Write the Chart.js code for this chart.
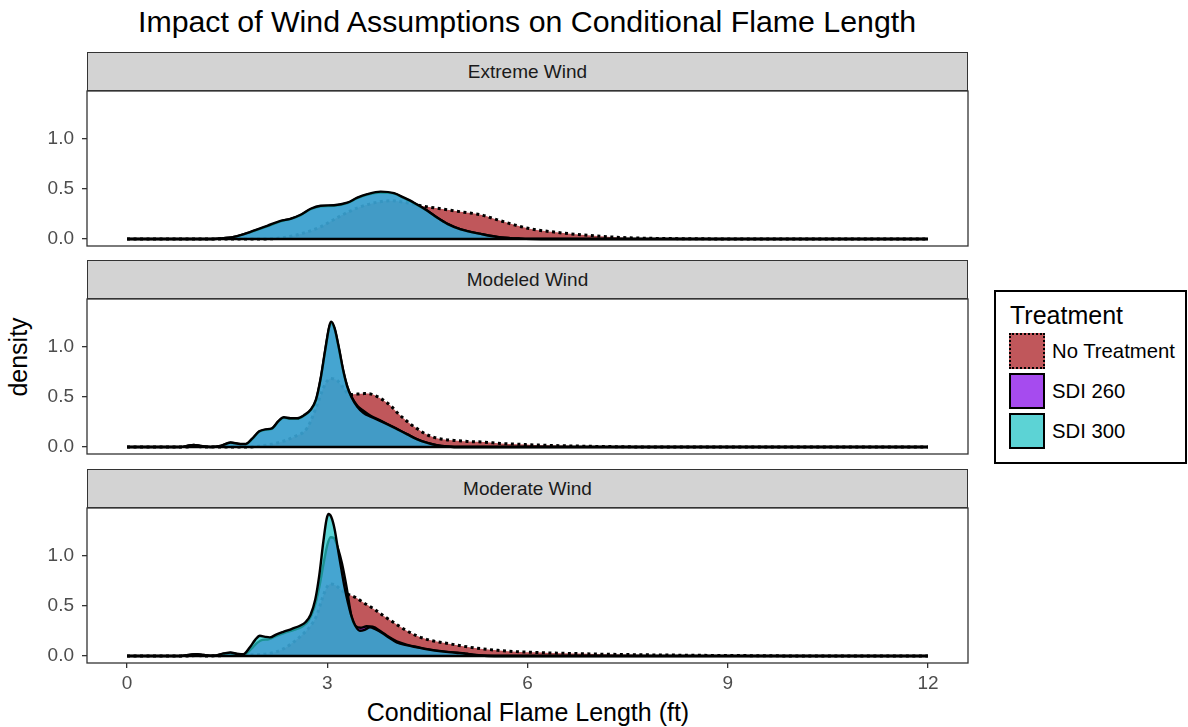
<!DOCTYPE html>
<html>
<head>
<meta charset="utf-8">
<script src="https://cdn.jsdelivr.net/npm/chart.js@4.4.1/dist/chart.umd.min.js"></script>
<style>
  body { margin: 0; background: #fff; font-family: "Liberation Sans", Arial, sans-serif; }
  #wrap { position: relative; width: 1188px; height: 727px; overflow: hidden; background: #fff; }
  canvas { position: absolute; left: 0; z-index: 1; }
  .strip { position: absolute; left: 87px; width: 881px; height: 39px; background: #d3d3d3;
           border: 1.3px solid #333; box-sizing: border-box; text-align: center;
           line-height: 37px; font-size: 19px; color: #1a1a1a; z-index: 2; }
  .txt { position: absolute; white-space: nowrap; color: #000; }
  #title { left: 527px; top: 22px; transform: translate(-50%, -50%); font-size: 30.3px; }
  #xlab { left: 528px; top: 712px; transform: translate(-50%, -50%); font-size: 25px; }
  #ylab { left: 18px; top: 357px; transform: translate(-50%, -50%) rotate(-90deg); font-size: 25px; }
  #legend { position: absolute; left: 994px; top: 290px; width: 193px; height: 174px;
            border: 2px solid #000; box-sizing: border-box; }
  #legTitle { left: 1010px; top: 315px; transform: translateY(-50%); font-size: 25px; }
  .key { position: absolute; left: 1009px; width: 36px; height: 36px; box-sizing: border-box;
         border: 2px solid #000; }
  .keyLab { position: absolute; left: 1052px; font-size: 20.3px; transform: translateY(-50%); white-space: nowrap; }
</style>
</head>
<body>
<div id="wrap">
  <div class="txt" id="title">Impact of Wind Assumptions on Conditional Flame Length</div>
  <div class="txt" id="xlab">Conditional Flame Length (ft)</div>
  <div class="txt" id="ylab">density</div>
  <div id="legend"></div>
  <div class="txt" id="legTitle">Treatment</div>
</div>
<script>
// facets, series and ticks
var panelNames = ['Extreme Wind', 'Modeled Wind', 'Moderate Wind'];
var seriesNames = ['No Treatment', 'SDI 260', 'SDI 300'];
var xTicks = [0, 3, 6, 9, 12];
var yTicks = [0, 0.5, 1.0];

// density curves, [flame length ft, density]
var extremeNone = [[0,0],[2.0,0],[2.3,0.01],[2.6,0.05],[2.9,0.12],[3.2,0.23],[3.5,0.32],[3.75,0.365],[3.95,0.38],[4.15,0.365],[4.4,0.33],[4.7,0.3],[5.0,0.27],[5.3,0.24],[5.55,0.19],[5.8,0.14],[6.05,0.1],[6.4,0.068],[6.8,0.042],[7.3,0.018],[7.8,0.007],[8.5,0.002],[9,0],[12,0]];
var extreme260 = [[0,0],[1.2,0],[1.4,0.005],[1.6,0.02],[1.85,0.068],[2.1,0.125],[2.3,0.175],[2.45,0.2],[2.6,0.235],[2.75,0.295],[2.9,0.325],[3.1,0.33],[3.3,0.355],[3.45,0.405],[3.6,0.44],[3.8,0.46],[4.0,0.45],[4.15,0.405],[4.3,0.355],[4.5,0.28],[4.65,0.21],[4.8,0.15],[5.0,0.095],[5.3,0.05],[5.6,0.015],[5.9,0.003],[6.2,0],[12,0]];
var extreme300 = [[0,0],[1.2,0],[1.4,0.005],[1.6,0.02],[1.85,0.07],[2.1,0.13],[2.3,0.18],[2.45,0.2],[2.6,0.24],[2.75,0.3],[2.9,0.33],[3.1,0.335],[3.3,0.36],[3.45,0.41],[3.6,0.445],[3.8,0.47],[4.0,0.455],[4.15,0.41],[4.3,0.36],[4.5,0.28],[4.65,0.21],[4.8,0.15],[5.0,0.095],[5.3,0.05],[5.6,0.015],[5.9,0.003],[6.2,0],[12,0]];

var modeledNone = [[0,0],[0.9,0],[1.0,0.005],[1.2,0],[1.8,0],[2.0,0.01],[2.25,0.04],[2.5,0.1],[2.7,0.19],[2.85,0.42],[2.95,0.6],[3.05,0.68],[3.15,0.66],[3.25,0.58],[3.33,0.52],[3.45,0.525],[3.56,0.53],[3.66,0.525],[3.75,0.5],[3.85,0.46],[3.95,0.41],[4.05,0.34],[4.15,0.28],[4.25,0.225],[4.35,0.18],[4.47,0.13],[4.6,0.095],[4.75,0.075],[4.9,0.065],[5.1,0.055],[5.35,0.048],[5.6,0.035],[5.85,0.027],[6.1,0.02],[6.4,0.014],[6.8,0.008],[7.3,0.003],[7.8,0],[12,0]];
var modeled260 = [[0,0],[0.8,0],[0.9,0.01],[1.0,0.02],[1.1,0.01],[1.25,0],[1.4,0.01],[1.55,0.042],[1.7,0.028],[1.78,0.028],[1.87,0.075],[1.98,0.15],[2.07,0.17],[2.17,0.18],[2.27,0.255],[2.35,0.29],[2.45,0.28],[2.55,0.28],[2.65,0.31],[2.75,0.365],[2.83,0.46],[2.9,0.67],[2.97,0.96],[3.03,1.19],[3.06,1.23],[3.11,1.17],[3.17,0.99],[3.24,0.75],[3.3,0.6],[3.36,0.5],[3.45,0.41],[3.54,0.36],[3.65,0.31],[3.79,0.265],[3.92,0.22],[4.04,0.18],[4.2,0.125],[4.34,0.078],[4.5,0.04],[4.64,0.017],[4.8,0.005],[5.0,0],[12,0]];
var modeled300 = [[0,0],[0.8,0],[0.9,0.01],[1.0,0.02],[1.1,0.01],[1.25,0],[1.4,0.01],[1.55,0.044],[1.7,0.03],[1.78,0.03],[1.87,0.08],[1.98,0.155],[2.07,0.175],[2.17,0.185],[2.27,0.26],[2.35,0.295],[2.45,0.285],[2.55,0.285],[2.65,0.315],[2.75,0.37],[2.83,0.47],[2.9,0.68],[2.97,0.97],[3.03,1.2],[3.06,1.245],[3.11,1.18],[3.17,1.0],[3.24,0.76],[3.3,0.6],[3.36,0.5],[3.45,0.4],[3.54,0.34],[3.65,0.3],[3.79,0.26],[3.92,0.22],[4.04,0.18],[4.2,0.125],[4.34,0.078],[4.5,0.04],[4.64,0.017],[4.8,0.005],[5.0,0],[12,0]];

var moderateNone = [[0,0],[0.9,0],[1.05,0.005],[1.2,0],[1.5,0.005],[1.8,0.01],[2.09,0.02],[2.34,0.07],[2.59,0.19],[2.75,0.3],[2.84,0.4],[2.93,0.58],[3.0,0.69],[3.06,0.715],[3.13,0.7],[3.2,0.66],[3.27,0.625],[3.34,0.605],[3.44,0.575],[3.54,0.53],[3.69,0.47],[3.84,0.4],[3.99,0.335],[4.14,0.27],[4.34,0.2],[4.55,0.155],[4.84,0.12],[5.1,0.09],[5.33,0.07],[5.58,0.055],[5.83,0.043],[6.1,0.036],[6.33,0.03],[6.7,0.024],[7.1,0.018],[7.6,0.013],[8.1,0.009],[8.6,0.006],[9.1,0.004],[9.6,0.002],[10,0],[12,0]];
var moderate260 = [[0,0],[0.8,0],[0.95,0.012],[1.05,0.018],[1.15,0.01],[1.3,0.003],[1.45,0.022],[1.55,0.03],[1.65,0.02],[1.76,0.015],[1.86,0.07],[1.95,0.13],[2.03,0.16],[2.12,0.165],[2.24,0.2],[2.36,0.23],[2.5,0.26],[2.62,0.29],[2.72,0.35],[2.8,0.47],[2.87,0.65],[2.94,0.9],[3.0,1.1],[3.05,1.18],[3.1,1.17],[3.16,1.07],[3.22,0.92],[3.29,0.68],[3.36,0.4],[3.42,0.3],[3.5,0.28],[3.59,0.295],[3.68,0.29],[3.8,0.245],[3.92,0.19],[4.04,0.145],[4.2,0.11],[4.34,0.09],[4.5,0.068],[4.74,0.045],[4.95,0.032],[5.05,0.026],[5.13,0.018],[5.3,0.005],[5.5,0],[12,0]];
var moderate300 = [[0,0],[0.8,0],[0.95,0.012],[1.05,0.018],[1.15,0.01],[1.3,0.003],[1.45,0.025],[1.55,0.035],[1.65,0.02],[1.74,0.015],[1.84,0.086],[1.92,0.16],[1.99,0.2],[2.07,0.19],[2.14,0.185],[2.24,0.215],[2.34,0.24],[2.47,0.27],[2.59,0.3],[2.68,0.34],[2.75,0.41],[2.82,0.56],[2.88,0.8],[2.94,1.13],[2.99,1.36],[3.02,1.41],[3.06,1.38],[3.11,1.26],[3.16,1.06],[3.21,0.865],[3.26,0.68],[3.31,0.53],[3.36,0.4],[3.42,0.3],[3.49,0.25],[3.56,0.26],[3.64,0.285],[3.72,0.265],[3.84,0.22],[3.94,0.175],[4.04,0.135],[4.2,0.105],[4.34,0.086],[4.5,0.065],[4.74,0.043],[4.95,0.03],[5.05,0.025],[5.13,0.017],[5.3,0.004],[5.5,0],[12,0]];

var panelSeries = [
  [extremeNone, extreme260, extreme300],
  [modeledNone, modeled260, modeled300],
  [moderateNone, moderate260, moderate300]
];

var fills = ['rgba(171,31,36,0.75)', 'rgba(136,15,234,0.75)', 'rgba(37,196,199,0.75)'];
var font = '"Liberation Sans", Arial, sans-serif';

// panel geometry
var plotTops = [91, 299.3, 508.3];
var plotH = 155;
var stripTops = [52, 260.3, 469.3];
var padTop = 24, xAxisH = 46, canvasW = 980, plotRight = 968, plotLeft = 87;

var wrap = document.getElementById('wrap');

var panelBorder = {
  id: 'panelBorder',
  afterDatasetsDraw: function(chart) {
    var a = chart.chartArea, ctx = chart.ctx;
    ctx.save();
    ctx.strokeStyle = '#333';
    ctx.lineWidth = 1.3;
    ctx.strokeRect(a.left, a.top, a.right - a.left, a.bottom - a.top);
    ctx.restore();
  }
};

panelNames.forEach(function(name, i) {
  var last = i === panelNames.length - 1;

  var strip = document.createElement('div');
  strip.className = 'strip';
  strip.style.top = stripTops[i] + 'px';
  strip.textContent = name;
  wrap.appendChild(strip);

  var cv = document.createElement('canvas');
  var h = padTop + plotH + (last ? xAxisH : padTop);
  cv.width = canvasW;
  cv.height = h;
  cv.style.top = (plotTops[i] - padTop) + 'px';
  cv.style.width = canvasW + 'px';
  cv.style.height = h + 'px';
  wrap.appendChild(cv);

  var sets = panelSeries[i].map(function(pts, k) {
    return {
      label: seriesNames[k],
      data: pts,
      backgroundColor: fills[k],
      borderColor: '#000',
      borderWidth: k === 0 ? 3 : 2.4,
      borderDash: k === 0 ? [3, 3.5] : [],
      fill: 'origin',
      order: 3 - k
    };
  });
  // outline along the bottom of every density polygon
  sets.push({
    label: 'base',
    data: [[xTicks[0], 0], [xTicks[xTicks.length - 1], 0]],
    borderColor: '#000',
    borderWidth: 2.6,
    fill: false,
    order: -1
  });

  new Chart(cv, {
    type: 'line',
    data: { datasets: sets },
    plugins: [panelBorder],
    options: {
      responsive: false,
      animation: false,
      layout: { padding: { top: padTop, bottom: last ? 0 : padTop, left: 0, right: canvasW - plotRight } },
      plugins: { legend: { display: false }, tooltip: { enabled: false } },
      elements: {
        point: { radius: 0 },
        line: { cubicInterpolationMode: 'monotone' }
      },
      scales: {
        x: {
          type: 'linear',
          min: -0.6,
          max: 12.6,
          display: last,
          afterBuildTicks: function(s) { s.ticks = xTicks.map(function(v) { return { value: v }; }); },
          afterFit: function(s) { s.height = last ? xAxisH : 0; },
          grid: { drawOnChartArea: false, tickLength: 5, color: '#333', lineWidth: 1.3 },
          border: { display: false },
          ticks: { font: { family: font, size: 19 }, color: '#4d4d4d', padding: 4, maxRotation: 0 }
        },
        y: {
          type: 'linear',
          min: -0.07,
          max: 1.47,
          afterBuildTicks: function(s) { s.ticks = yTicks.map(function(v) { return { value: v }; }); },
          afterFit: function(s) { s.width = plotLeft; },
          grid: { drawOnChartArea: false, tickLength: 5, color: '#333', lineWidth: 1.3 },
          border: { display: false },
          ticks: {
            font: { family: font, size: 19 }, color: '#4d4d4d', padding: 8,
            callback: function(v) { return v.toFixed(1); }
          }
        }
      }
    }
  });
});

// legend keys
var keyTops = [333, 373, 413];
seriesNames.forEach(function(name, k) {
  var key = document.createElement('div');
  key.className = 'key';
  key.style.top = keyTops[k] + 'px';
  key.style.background = fills[k];
  if (k === 0) key.style.borderStyle = 'dotted';
  wrap.appendChild(key);

  var lab = document.createElement('div');
  lab.className = 'keyLab';
  lab.style.top = (keyTops[k] + 18) + 'px';
  lab.textContent = name;
  wrap.appendChild(lab);
});
</script>
</body>
</html>
